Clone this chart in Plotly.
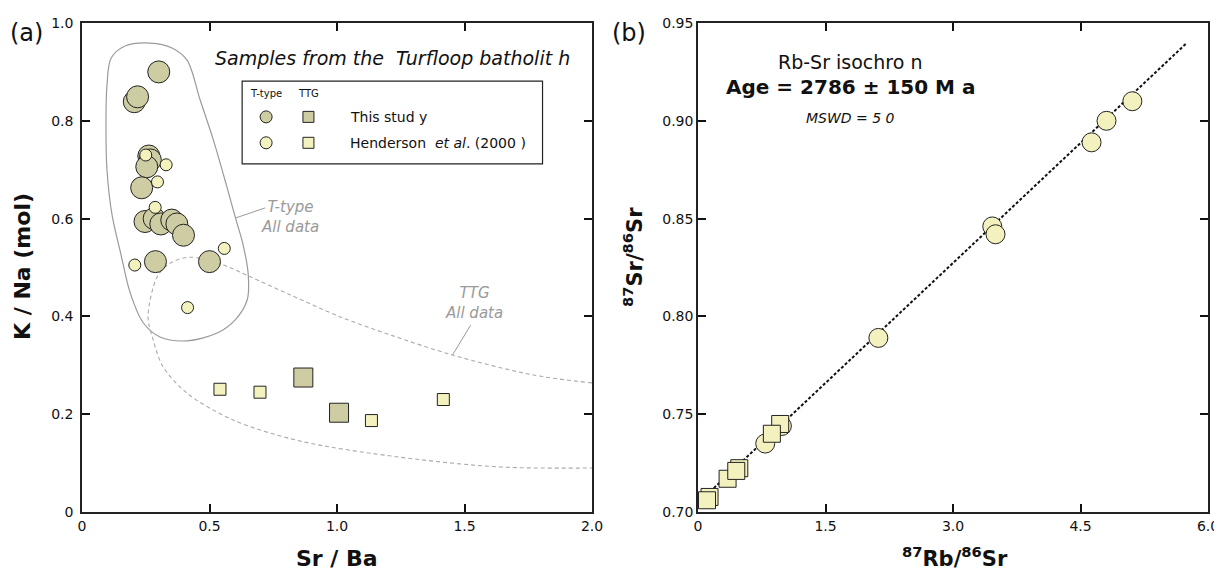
import plotly.graph_objects as go

# ---------------- Panel (a): K/Na vs Sr/Ba ----------------
ttype_this_x = [0.301, 0.205, 0.218, 0.262, 0.268, 0.254, 0.234, 0.247, 0.283, 0.309, 0.352, 0.372, 0.398, 0.288, 0.500]
ttype_this_y = [0.900, 0.839, 0.849, 0.728, 0.720, 0.706, 0.663, 0.594, 0.600, 0.589, 0.597, 0.589, 0.566, 0.512, 0.512]
ttype_hend_x = [0.250, 0.330, 0.296, 0.287, 0.207, 0.558, 0.414]
ttype_hend_y = [0.730, 0.710, 0.675, 0.623, 0.505, 0.539, 0.418]
ttg_this_x = [0.868, 1.008]
ttg_this_y = [0.275, 0.203]
ttg_hend_x = [0.541, 0.698, 1.135, 1.417]
ttg_hend_y = [0.251, 0.245, 0.187, 0.230]

# field outlines (vertices)
ttype_field_x = [0.267, 0.353, 0.412, 0.463, 0.515, 0.566, 0.601, 0.632, 0.652, 0.648, 0.601, 0.530, 0.412,
                 0.306, 0.240, 0.189, 0.153, 0.118, 0.098, 0.094, 0.098, 0.114, 0.169, 0.267]
ttype_field_y = [0.959, 0.949, 0.924, 0.843, 0.761, 0.669, 0.603, 0.546, 0.485, 0.434, 0.393, 0.366, 0.350,
                 0.358, 0.387, 0.448, 0.526, 0.607, 0.699, 0.791, 0.873, 0.928, 0.953, 0.959]
ttg_field_x = [2.000, 1.771, 1.453, 1.210, 1.013, 0.817, 0.660, 0.554, 0.424, 0.346, 0.295, 0.259, 0.279,
               0.318, 0.412, 0.593, 0.856, 1.249, 1.642, 2.000]
ttg_field_y = [0.264, 0.280, 0.321, 0.362, 0.399, 0.444, 0.481, 0.505, 0.521, 0.509, 0.481, 0.399, 0.352,
               0.297, 0.243, 0.188, 0.145, 0.112, 0.092, 0.090]

xa_tickvals = [0, 0.5, 1.0, 1.5, 2.0]
xa_ticktext = ["0", "0.5", "1.0", "1.5", "2.0"]
ya_tickvals = [0, 0.2, 0.4, 0.6, 0.8, 1.0]
ya_ticktext = ["0", "0.2", "0.4", "0.6", "0.8", "1.0"]

# ---------------- Panel (b): Rb-Sr isochron ----------------
rb_circle_x = [0.791, 0.987, 2.122, 3.462, 3.500, 4.630, 4.806, 5.110]
rb_circle_y = [0.735, 0.744, 0.789, 0.846, 0.842, 0.889, 0.900, 0.910]
rb_square_x = [0.136, 0.106, 0.348, 0.486, 0.450, 0.967, 0.869]
rb_square_y = [0.7077, 0.706, 0.717, 0.7224, 0.721, 0.745, 0.740]
iso_slope = 0.0409
iso_intercept = 0.7046
iso_x_range = [0.10, 5.75]

xb_tickvals = [0, 1.5, 3.0, 4.5, 6.0]
xb_ticktext = ["0", "1.5", "3.0", "4.5", "6.0"]
yb_tickvals = [0.70, 0.75, 0.80, 0.85, 0.90, 0.95]
yb_ticktext = ["0.70", "0.75", "0.80", "0.85", "0.90", "0.95"]

KHAKI = "rgb(206,204,163)"
YELLOW = "rgb(243,242,190)"
EDGE = "#222222"
GREY = "#9a9a9a"
FONT = "DejaVu Sans"

# page is offset by the 8px body margin
W, H, OFF = 1214, 568, 8
def px(xp):
    return (xp - OFF) / W
def py(yp):
    return 1 - (yp - OFF) / H

fig = go.Figure()

# fields
fig.add_trace(go.Scatter(x=ttype_field_x, y=ttype_field_y, mode="lines",
                         line=dict(color=GREY, width=1.2, shape="spline", smoothing=0.9),
                         xaxis="x", yaxis="y", showlegend=False, hoverinfo="skip"))
fig.add_trace(go.Scatter(x=ttg_field_x, y=ttg_field_y, mode="lines",
                         line=dict(color="#aaaaaa", width=1.1, dash="4px,3px", shape="spline", smoothing=0.9),
                         xaxis="x", yaxis="y", showlegend=False, hoverinfo="skip"))

# data (a)
fig.add_trace(go.Scatter(x=ttype_this_x, y=ttype_this_y, mode="markers",
                         marker=dict(symbol="circle", size=22, color=KHAKI, line=dict(color=EDGE, width=1)),
                         xaxis="x", yaxis="y", showlegend=False))
fig.add_trace(go.Scatter(x=ttype_hend_x, y=ttype_hend_y, mode="markers",
                         marker=dict(symbol="circle", size=12, color=YELLOW, line=dict(color=EDGE, width=1)),
                         xaxis="x", yaxis="y", showlegend=False))
fig.add_trace(go.Scatter(x=ttg_this_x, y=ttg_this_y, mode="markers",
                         marker=dict(symbol="square", size=19, color=KHAKI, line=dict(color=EDGE, width=1)),
                         xaxis="x", yaxis="y", showlegend=False))
fig.add_trace(go.Scatter(x=ttg_hend_x, y=ttg_hend_y, mode="markers",
                         marker=dict(symbol="square", size=12, color=YELLOW, line=dict(color=EDGE, width=1)),
                         xaxis="x", yaxis="y", showlegend=False))

# legend box markers (a)
leg_x_circle, leg_x_square = 0.722, 0.888
leg_y_this, leg_y_hend = 0.808, 0.755
fig.add_trace(go.Scatter(x=[leg_x_circle, leg_x_circle], y=[leg_y_this, leg_y_hend], mode="markers",
                         marker=dict(symbol="circle", size=12, color=[KHAKI, YELLOW], line=dict(color=EDGE, width=1)),
                         xaxis="x", yaxis="y", showlegend=False, hoverinfo="skip"))
fig.add_trace(go.Scatter(x=[leg_x_square, leg_x_square], y=[leg_y_this, leg_y_hend], mode="markers",
                         marker=dict(symbol="square", size=11, color=[KHAKI, YELLOW], line=dict(color=EDGE, width=1)),
                         xaxis="x", yaxis="y", showlegend=False, hoverinfo="skip"))

# data (b)
iso_y = [iso_intercept + iso_slope * v for v in iso_x_range]
fig.add_trace(go.Scatter(x=iso_x_range, y=iso_y, mode="lines",
                         line=dict(color="#111111", width=2, dash="3px,2px"),
                         xaxis="x2", yaxis="y2", showlegend=False, hoverinfo="skip"))
fig.add_trace(go.Scatter(x=rb_circle_x, y=rb_circle_y, mode="markers",
                         marker=dict(symbol="circle", size=19, color=YELLOW, line=dict(color=EDGE, width=1)),
                         xaxis="x2", yaxis="y2", showlegend=False))
fig.add_trace(go.Scatter(x=rb_square_x, y=rb_square_y, mode="markers",
                         marker=dict(symbol="square", size=17, color=YELLOW, line=dict(color=EDGE, width=1)),
                         xaxis="x2", yaxis="y2", showlegend=False))

axis_common = dict(showline=True, linecolor="#222222", linewidth=1.5, mirror="allticks",
                   ticks="inside", ticklen=8, tickwidth=1.5, tickcolor="#111111", automargin=False,
                   showgrid=False, zeroline=False, tickfont=dict(family=FONT, size=14, color="#111111"))

ydom = [1 - py(512), py(23)]
ydom = [py(512), py(23)]
fig.update_layout(
    width=W, height=H,
    margin=dict(l=0, r=0, t=0, b=0, pad=0, autoexpand=False),
    paper_bgcolor="white", plot_bgcolor="white",
    font=dict(family=FONT, color="#111111"),
    xaxis=dict(domain=[px(82), px(592)], range=[0, 2.0], tickvals=xa_tickvals, ticktext=xa_ticktext,
               anchor="y", **axis_common),
    yaxis=dict(domain=ydom, range=[0, 1.0], tickvals=ya_tickvals, ticktext=ya_ticktext,
               anchor="x", ticklabelstandoff=4, **axis_common),
    xaxis2=dict(domain=[px(698), px(1208)], range=[0, 6.0], tickvals=xb_tickvals, ticktext=xb_ticktext,
                anchor="y2", **axis_common),
    yaxis2=dict(domain=ydom, range=[0.70, 0.95], tickvals=yb_tickvals, ticktext=yb_ticktext,
                anchor="x2", **axis_common),
)

shapes = [
    # legend box
    dict(type="rect", xref="x", yref="y", x0=0.628, x1=1.806, y0=0.712, y1=0.881,
         line=dict(color="#222222", width=1.2), fillcolor="white", layer="below"),
    # leader lines
    dict(type="line", xref="x", yref="y", x0=0.601, y0=0.601, x1=0.719, y1=0.622,
         line=dict(color=GREY, width=1)),
    dict(type="line", xref="x", yref="y", x0=1.453, y0=0.321, x1=1.524, y1=0.382,
         line=dict(color=GREY, width=1)),
]
fig.update_layout(shapes=shapes)

ann = []
def add(text, x, y, xref="paper", yref="paper", size=14, color="#111111", angle=0, xanchor="center", yanchor="middle"):
    ann.append(dict(text=text, x=x, y=y, xref=xref, yref=yref, showarrow=False, textangle=angle,
                    xanchor=xanchor, yanchor=yanchor, font=dict(family=FONT, size=size, color=color)))

# panel labels
add("(a)", px(26), py(33), size=24)
add("(b)", px(629), py(33), size=24)
# panel (a) texts
add("<i>Samples from the  Turfloop batholit h</i>", 1.219, 0.928, "x", "y", size=19)
add("T-type", 0.722, 0.856, "x", "y", size=10)
add("TTG", 0.888, 0.856, "x", "y", size=10)
add("This stud y", 1.045, 0.808, "x", "y", size=14, xanchor="left")
add("Henderson  <i>et al</i>. (2000 )", 1.045, 0.755, "x", "y", size=14, xanchor="left")
add("<i>T-type<br>All data</i>", 0.817, 0.603, "x", "y", size=15, color=GREY)
add("<i>TTG<br>All data</i>", 1.536, 0.427, "x", "y", size=15, color=GREY)
# axis titles (a)
add("<b>K / Na (mol)</b>", px(22), py(267), size=22, angle=-90)
add("<b>Sr / Ba</b>", px(337), py(558), size=22)
# panel (b) texts
add("Rb-Sr isochro n", px(850), py(62), size=19)
add("<b>Age = 2786 ± 150 M a</b>", px(850), py(87), size=20)
add("<i>MSWD = 5 0</i>", px(850), py(118), size=14)
add("<b><sup>87</sup>Sr/<sup>86</sup>Sr</b>", px(633), py(257), size=21, angle=-90)
add("<b><sup>87</sup>Rb/<sup>86</sup>Sr</b>", px(955), py(557), size=21)
fig.update_layout(annotations=ann)

fig.write_html("out.html")
